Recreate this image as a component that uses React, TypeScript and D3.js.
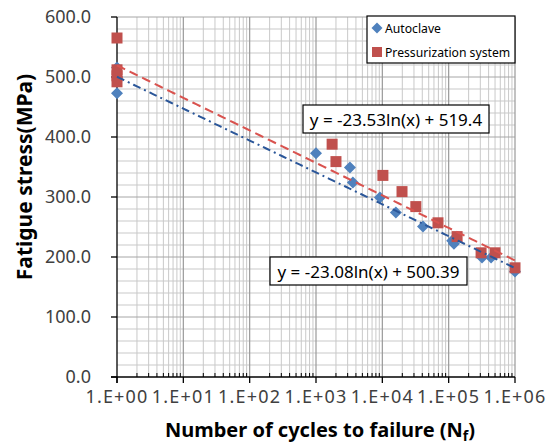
import React from "react";
import * as d3 from "d3";

// Fatigue test results: cycles to failure and stress amplitude
const autoclaveCycles = [1, 1, 1, 1000, 3250, 3600, 9200, 16000, 41000, 113000, 120000, 318000, 436000, 1000000];
const autoclaveStress = [473, 500, 516, 373, 349, 324, 299, 274, 251, 227, 222, 199, 199, 176];

const pressurizationCycles = [1, 1, 1, 1, 1750, 2000, 10200, 19800, 32000, 69000, 134000, 308000, 500000, 1000000];
const pressurizationStress = [565, 512, 502, 492, 388, 359, 336, 309, 284, 257, 234, 207, 207, 182];

// Logarithmic fits: y = a ln(x) + b
const autoclaveFit = { a: -23.08, b: 500.39, label: "y = -23.08ln(x) + 500.39" };
const pressurizationFit = { a: -23.53, b: 519.4, label: "y = -23.53ln(x) + 519.4" };

const xTickValues = [1, 10, 100, 1000, 10000, 100000, 1000000];
const xTickLabels = ["1.E+00", "1.E+01", "1.E+02", "1.E+03", "1.E+04", "1.E+05", "1.E+06"];
const yTickValues = [0, 100, 200, 300, 400, 500, 600];
const yTickLabels = ["0.0", "100.0", "200.0", "300.0", "400.0", "500.0", "600.0"];

const legendLabels = ["Autoclave", "Pressurization system"];

const W = 553;
const H = 446;
const plot = { left: 117, right: 515, top: 17, bottom: 377 };

const BLUE = "#4F81BD";
const RED = "#C0504D";
const BLUE_LINE = "#2A5699";
const RED_LINE = "#D9534F";
const FONT = "'Noto Sans', 'Open Sans', sans-serif";

// diamond marker: a square turned 45 degrees
const Diamond = ({ cx, cy, r, fill }: { cx: number; cy: number; r: number; fill: string }) => (
  <path d={`M${cx},${cy - r}L${cx + r},${cy}L${cx},${cy + r}L${cx - r},${cy}Z`} fill={fill} />
);

export default function App() {
  const x = d3.scaleLog().domain([1, 1e6]).range([plot.left, plot.right]);
  const y = d3.scaleLinear().domain([0, 600]).range([plot.bottom, plot.top]);

  // minor decade lines 2..9 within each decade
  const minorX: number[] = [];
  for (let e = 0; e < 6; e++) {
    for (let m = 2; m <= 9; m++) minorX.push(m * Math.pow(10, e));
  }
  const minorY = d3.range(0, 601, 20).filter((v) => v % 100 !== 0);

  const fitPath = (fit: { a: number; b: number }) => {
    const pts = d3.range(0, 6.001, 0.05).map((e) => Math.pow(10, e));
    return d3
      .line<number>()
      .x((n) => x(n))
      .y((n) => y(fit.a * Math.log(n) + fit.b))(pts) as string;
  };

  return (
    <svg width={W} height={H} style={{ position: "absolute", left: 0, top: 0 }}>
      <rect width={W} height={H} fill="#fff" />
      {/* grid */}
      <g>
        {minorY.map((v) => (
          <line key={"my" + v} x1={plot.left} x2={plot.right} y1={y(v)} y2={y(v)} stroke="#c9c9c9" strokeWidth={1} />
        ))}
        {minorX.map((v) => (
          <line key={"mx" + v} x1={x(v)} x2={x(v)} y1={plot.top} y2={plot.bottom} stroke="#c9c9c9" strokeWidth={1} />
        ))}
        {yTickValues.slice(1).map((v) => (
          <line key={"gy" + v} x1={plot.left} x2={plot.right} y1={y(v)} y2={y(v)} stroke="#a6a6a6" strokeWidth={1} />
        ))}
        {xTickValues.slice(1).map((v) => (
          <line key={"gx" + v} x1={x(v)} x2={x(v)} y1={plot.top} y2={plot.bottom} stroke="#999" strokeWidth={1.2} />
        ))}
      </g>

      {/* axes */}
      <g stroke="#000" strokeWidth={1.3}>
        <line x1={plot.left} x2={plot.left} y1={plot.top} y2={plot.bottom + 6} />
        <line x1={plot.left - 6} x2={plot.right} y1={plot.bottom} y2={plot.bottom} />
        {yTickValues.map((v) => (
          <line key={"ty" + v} x1={plot.left - 6} x2={plot.left} y1={y(v)} y2={y(v)} />
        ))}
        {xTickValues.map((v) => (
          <line key={"tx" + v} x1={x(v)} x2={x(v)} y1={plot.bottom} y2={plot.bottom + 6} />
        ))}
        {minorX.map((v) => (
          <line key={"tmx" + v} x1={x(v)} x2={x(v)} y1={plot.bottom - 4} y2={plot.bottom} strokeWidth={1} />
        ))}
      </g>

      {/* markers */}
      <g>
        {autoclaveCycles.map((n, i) => (
          <Diamond key={"a" + i} cx={x(n)} cy={y(autoclaveStress[i])} r={6} fill={BLUE} />
        ))}
        {pressurizationCycles.map((n, i) => (
          <rect
            key={"p" + i}
            x={x(n) - 5.5}
            y={y(pressurizationStress[i]) - 5.5}
            width={11}
            height={11}
            fill={RED}
          />
        ))}
      </g>

      {/* trend lines */}
      <path d={fitPath(pressurizationFit)} fill="none" stroke={RED_LINE} strokeWidth={2} strokeDasharray="9 5" />
      <path d={fitPath(autoclaveFit)} fill="none" stroke={BLUE_LINE} strokeWidth={2} strokeDasharray="8 4 2 4" />

      {/* tick labels */}
      <g fontFamily={FONT} fontSize={18} fill="#404040">
        {yTickValues.map((v, i) => (
          <text key={"ly" + v} x={plot.left - 26} y={y(v) + 6} textAnchor="end">
            {yTickLabels[i]}
          </text>
        ))}
        {xTickValues.map((v, i) => (
          <text key={"lx" + v} x={x(v)} y={403} textAnchor="middle" letterSpacing={1.2}>
            {xTickLabels[i]}
          </text>
        ))}
      </g>

      {/* axis titles */}
      <text
        x={320}
        y={437}
        textAnchor="middle"
        fontFamily={FONT}
        fontWeight="bold"
        fontSize={20}
        fill="#000"
      >
        Number of cycles to failure (N<tspan fontSize={14} dy={4}>f</tspan>
        <tspan dy={-4}>)</tspan>
      </text>
      <text
        transform="translate(32,177) rotate(-90)"
        textAnchor="middle"
        fontFamily={FONT}
        fontWeight="bold"
        fontSize={21}
        fill="#000"
      >
        Fatigue stress(MPa)
      </text>

      {/* legend */}
      <g fontFamily={FONT} fontSize={12.2} fill="#000">
        <rect x={367} y={16} width={148} height={47} fill="#fff" stroke="#000" strokeWidth={1.2} />
        <Diamond cx={377} cy={28} r={5.5} fill={BLUE} />
        <text x={385} y={32.5}>{legendLabels[0]}</text>
        <rect x={372} y={47} width={10} height={10} fill={RED} />
        <text x={385} y={56.5}>{legendLabels[1]}</text>
      </g>

      {/* fit equations */}
      <g fontFamily={FONT} fontSize={17} fill="#000">
        <rect x={303} y={105} width={186} height={28} fill="#fff" stroke="#000" strokeWidth={1.2} />
        <text x={396} y={125.5} textAnchor="middle">{pressurizationFit.label}</text>
        <rect x={270} y={257} width={197} height={28} fill="#fff" stroke="#000" strokeWidth={1.2} />
        <text x={368.5} y={277.5} textAnchor="middle">{autoclaveFit.label}</text>
      </g>
    </svg>
  );
}
